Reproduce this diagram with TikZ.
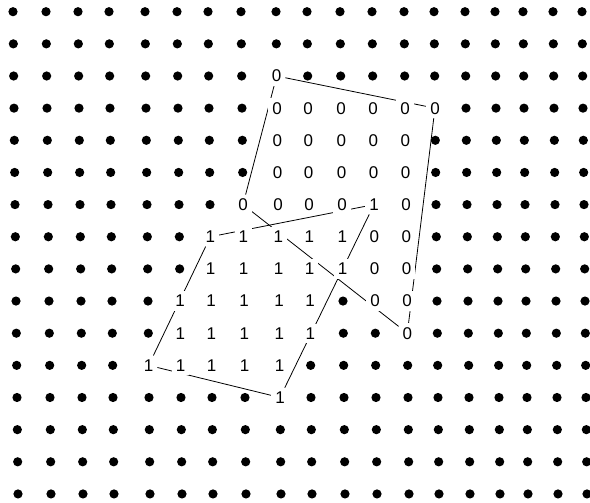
\documentclass[tikz,border=0pt]{standalone}
\usepackage{fontspec}
\setmainfont{Liberation Sans}
\usetikzlibrary{backgrounds}
\begin{document}
\begin{tikzpicture}[x=1pt,y=-1pt,
  digit/.style={fill=white,inner sep=3.8pt,font=\fontsize{17}{17}\selectfont},
  edge/.style={draw=black,line width=0.8pt}]
\useasboundingbox (0,0) rectangle (590,503);
\def\colx{{18,51,83,114,150,182,213,246,281,312,345,377,409,439,470,500,528,558,587}}
\foreach \c in {0,...,18}{
  \foreach \r in {0,...,15}{
    \pgfmathsetmacro\px{\colx[\c]-5+\r/3}
    \pgfmathsetmacro\py{11.7+32.15*\r}
    \coordinate (g-\c-\r) at (\px,\py);
    \fill (g-\c-\r) circle (4.6pt);
  }
}
% zeros
\foreach \c/\r in {8/2,
  8/3,9/3,10/3,11/3,12/3,13/3,
  8/4,9/4,10/4,11/4,12/4,
  8/5,9/5,10/5,11/5,12/5,
  7/6,8/6,9/6,10/6,12/6,
  11/7,12/7, 11/8,12/8, 11/9,12/9, 12/10}{
  \node[digit] (n-\c-\r) at (g-\c-\r) {0};
}
% ones
\foreach \c/\r in {11/6,
  6/7,7/7,8/7,9/7,10/7,
  6/8,7/8,8/8,9/8,10/8,
  5/9,6/9,7/9,8/9,9/9,
  5/10,6/10,7/10,8/10,9/10,
  4/11,5/11,6/11,7/11,8/11,
  8/12}{
  \node[digit] (n-\c-\r) at (g-\c-\r) {1};
}
\begin{scope}[on background layer]
\fill[white] (0,0) rectangle (590,503);
\draw[edge] (n-8-2) -- (n-13-3) -- (n-12-10) -- (n-7-6) -- (n-8-2);
\draw[edge] (n-6-7) -- (n-11-6) -- (n-8-12) -- (n-4-11) -- (n-6-7);
\end{scope}
\end{tikzpicture}
\end{document}
